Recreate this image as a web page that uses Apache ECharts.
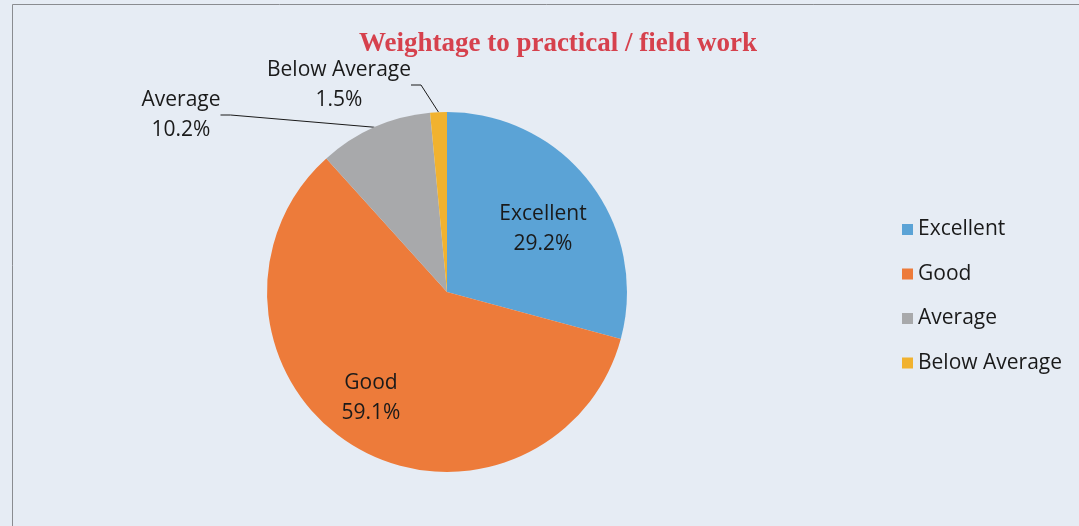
<!DOCTYPE html>
<html>
<head>
<meta charset="utf-8">
<script src="https://cdn.jsdelivr.net/npm/echarts@6/dist/echarts.min.js"></script>
<style>
  html, body { margin: 0; padding: 0; background: #e6ecf4; }
  #chart { width: 1079px; height: 526px; }
</style>
</head>
<body>
<div id="chart"></div>
<script>
// data
const categories = ['Excellent', 'Good', 'Average', 'Below Average']
const shares = [29.2, 59.1, 10.2, 1.5]
const colors = ['#5ba3d6', '#ed7b3a', '#a8a9ab', '#f1b22f']

// where each data label sits (label anchor = text centre)
const labelSpots = [
  { x: 543, y: 229 },
  { x: 371, y: 398 },
  { x: 181, y: 115 },
  { x: 339, y: 85 }
]

const chart = echarts.init(document.getElementById('chart'))

const option = {
  backgroundColor: '#e6ecf4',
  animation: false,
  title: {
    text: 'Weightage to practical / field work',
    left: 553,
    top: 26,
    textAlign: 'center',
    textStyle: {
      fontFamily: 'Liberation Serif',
      fontWeight: 'bold',
      fontSize: 27,
      color: '#d6414d'
    }
  },
  legend: {
    orient: 'vertical',
    left: 897,
    top: 214,
    itemWidth: 11,
    itemHeight: 11,
    itemGap: 23.5,
    icon: 'rect',
    textStyle: {
      fontFamily: 'Open Sans',
      fontSize: 21,
      color: '#1a1a1a',
      lineHeight: 21,
      padding: [0, 0, 0, 0]
    },
    data: categories
  },
  graphic: [
    {
      type: 'rect',
      shape: { x: 12.5, y: 4.5, width: 1100, height: 600 },
      style: { fill: 'none', stroke: '#8a8c90', lineWidth: 1 },
      silent: true
    }
  ],
  series: [
    {
      type: 'pie',
      center: [447, 292],
      radius: 180,
      startAngle: 90,
      clockwise: true,
      data: categories.map((c, i) => ({
        name: c,
        value: shares[i],
        itemStyle: { color: colors[i] },
        label: { position: i < 2 ? 'inside' : 'outside' },
        labelLine: { show: i >= 2 }
      })),
      label: {
        formatter: p => p.name + '\n' + p.value.toFixed(1) + '%',
        fontFamily: 'Open Sans',
        fontSize: 21,
        lineHeight: 30,
        color: '#1a1a1a',
        align: 'center'
      },
      labelLine: {
        lineStyle: { color: '#1a1a1a', width: 1 },
        length: 20,
        length2: 10
      },
      labelLayout: p => ({
        x: labelSpots[p.dataIndex].x,
        y: labelSpots[p.dataIndex].y,
        align: 'center',
        verticalAlign: 'middle'
      }),
      emphasis: { disabled: true }
    }
  ]
}

chart.setOption(option)
</script>
</body>
</html>
